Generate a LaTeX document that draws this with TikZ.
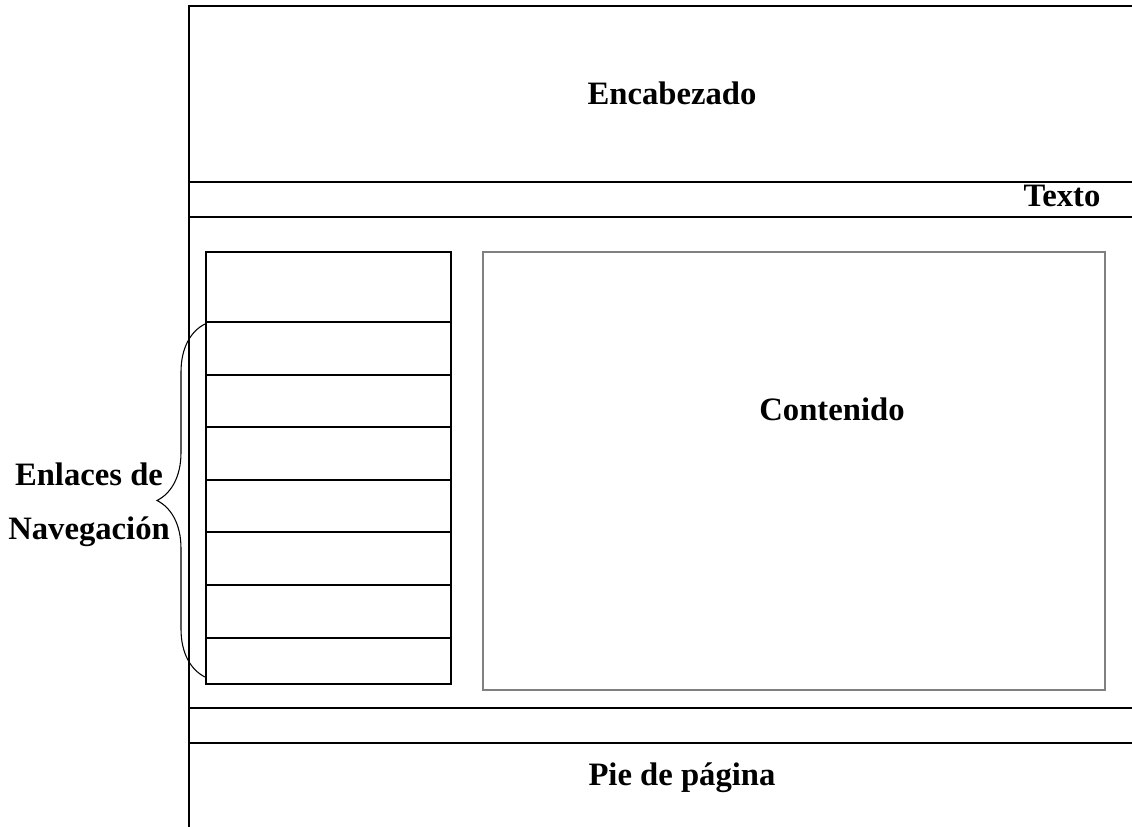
\documentclass[tikz,border=0pt]{standalone}
\usepackage{fontspec}
\setmainfont{Liberation Serif}
\usetikzlibrary{decorations.pathreplacing}

\begin{document}
\begin{tikzpicture}[x=0.75pt, y=-0.75pt, line width=0.9pt,
        txt/.style={font=\bfseries\fontsize{24.5}{40.5}\selectfont, align=center}]
        \useasboundingbox (0,0) rectangle (1132,827);
        % Page frame
        \draw (189,827) -- (189,6) -- (1132,6); % left edge and top
        \draw (189,182) -- (1132,182); % text band
        \draw (189,217) -- (1132,217);
        \draw (189,708) -- (1132,708); % footer band
        \draw (189,743) -- (1132,743);
        
        % Navigation links (black)
        \draw (206,252) rectangle (451,684);
        \foreach \y in {322,375,427,480,532,585,638}
            \draw (206,\y) -- (451,\y);
        
        % Content (gray)
        \draw[gray] (483,252) rectangle (1105,690);
        
        % Brace
        \draw[line width=0.8pt, decorate, decoration={brace, amplitude=36pt}] (205,677) -- (205,324);
        
        % Labels
        \node[txt, anchor=base] (head) at (672,105) {Encabezado};
        \node[txt, anchor=base] (text) at (1062,207) {Texto};
        \node[txt, anchor=base] (cont) at (832,421) {Contenido};
        \node[txt] (nav) at (89,505) {Enlaces de\\Navegación};
        \node[txt, anchor=base] (foot) at (682,785) {Pie de página};
        \end{tikzpicture}
\end{document}
